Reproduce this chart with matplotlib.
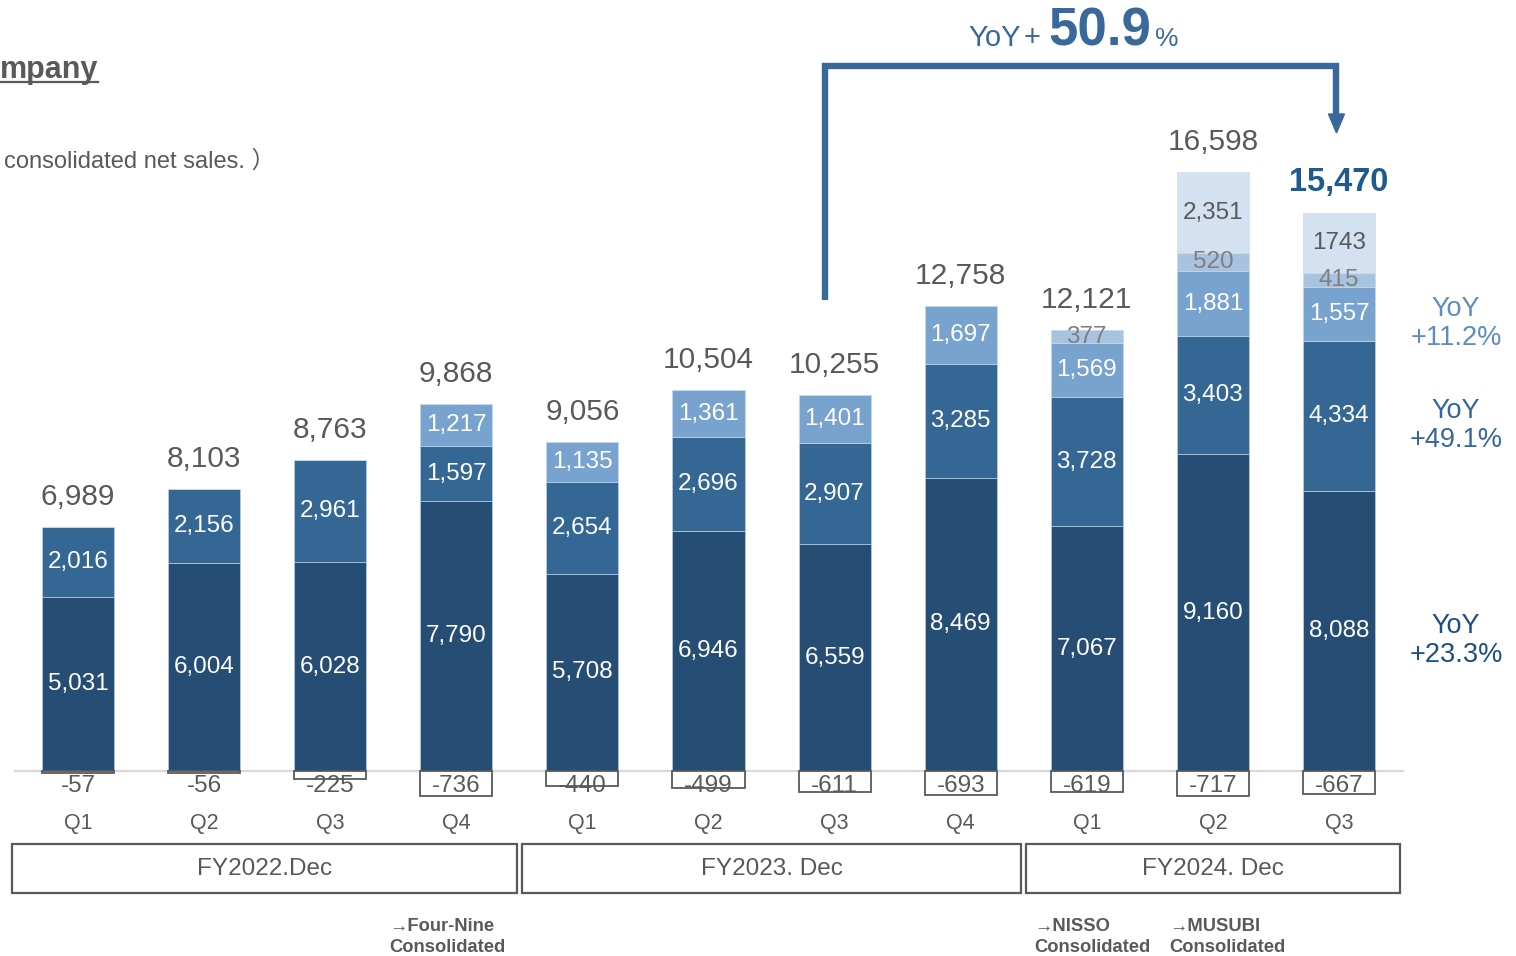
import matplotlib
matplotlib.use("Agg")
import matplotlib.pyplot as plt
from matplotlib.patches import Rectangle

plt.rcParams['font.family'] = ['Liberation Sans', 'Noto Sans CJK JP', 'DejaVu Sans']

# quarterly net sales (millions of yen) by segment
quarters = ["Q1", "Q2", "Q3", "Q4", "Q1", "Q2", "Q3", "Q4", "Q1", "Q2", "Q3"]
fiscal_years = ["FY2022.Dec", "FY2023. Dec", "FY2024. Dec"]
fy_sizes = [4, 4, 3]

seg1 = [5031, 6004, 6028, 7790, 5708, 6946, 6559, 8469, 7067, 9160, 8088]
seg2 = [2016, 2156, 2961, 1597, 2654, 2696, 2907, 3285, 3728, 3403, 4334]
seg3 = [0, 0, 0, 1217, 1135, 1361, 1401, 1697, 1569, 1881, 1557]
seg4 = [0, 0, 0, 0, 0, 0, 0, 0, 377, 520, 415]
seg5 = [0, 0, 0, 0, 0, 0, 0, 0, 0, 2351, 1743]
elim = [-57, -56, -225, -736, -440, -499, -611, -693, -619, -717, -667]
totals = [6989, 8103, 8763, 9868, 9056, 10504, 10255, 12758, 12121, 16598, 15470]
seg_labels = [None, None, None, None, None, None, None, None, None, "2,351", "1743"]

yoy_total = "50.9"
yoy_segments = ["+23.3%", "+49.1%", "+11.2%"]
note_texts = ["→Four-Nine\nConsolidated", "→NISSO\nConsolidated", "→MUSUBI\nConsolidated"]
note_left_px = [389, 1034, 1169]

seg_colors = ["#264E75", "#356795", "#78A3CF", "#A7C3E0", "#D3E1F0"]
seg_text = ["white", "white", "white", "#7F7F7F", "#595959"]
yoy_colors = ["#1C4F82", "#36679A", "#5D8DC0"]
gray = "#595959"
accent = "#39699B"

# layout: pixel -> data helpers (bar spacing 126.1 px, 0.0346 px per unit)
X0, DX, BASE, SCALE = 78, 126.1, 771, 0.0346
def X(px):
    return (px - X0) / DX
def Y(py):
    return (BASE - py) / SCALE

fig = plt.figure(figsize=(15.16, 9.56), dpi=100)
ax = fig.add_axes([0, 0, 1, 1])
ax.set_xlim(X(0), X(1516))
ax.set_ylim(Y(956), Y(0))
ax.axis("off")

n = len(quarters)
xs = list(range(n))
w = 0.571

# baseline
ax.plot([X(15), X(1403)], [0, 0], color="#D9D9D9", lw=1.6, zorder=1)

bottoms = [0] * n
for k, seg in enumerate([seg1, seg2, seg3, seg4, seg5]):
    ax.bar(xs, seg, w, bottom=bottoms, color=seg_colors[k],
           edgecolor="#C9D8E8", linewidth=0.4, zorder=2)
    for i in xs:
        if seg[i] <= 0:
            continue
        if k == 4:
            txt = seg_labels[i]
        else:
            txt = f"{seg[i]:,}"
        ax.text(i, bottoms[i] + seg[i] / 2, txt, ha="center", va="center",
                fontsize=17.5, color=seg_text[k], zorder=4)
    bottoms = [b + v for b, v in zip(bottoms, seg)]

# eliminations below the baseline
for i in xs:
    ax.add_patch(Rectangle((i - w / 2, elim[i]), w, -elim[i], facecolor="white",
                           edgecolor=gray, linewidth=1.3, zorder=2))
    ax.text(i, -420, str(elim[i]), ha="center", va="center", fontsize=17.5,
            color=gray, zorder=4)

# totals
for i in xs:
    last = i == n - 1
    ax.text(i, bottoms[i] + 30 / SCALE, f"{totals[i]:,}", ha="center", va="center",
            fontsize=23.5 if last else 21.5, fontweight="bold" if last else "normal",
            color="#1F5A8E" if last else gray, zorder=4)

# quarter and fiscal-year labels
for i in xs:
    ax.text(i, Y(823), quarters[i], ha="center", va="center", fontsize=15.5, color=gray)

start = 0
for fy, size in zip(fiscal_years, fy_sizes):
    end = start + size - 1
    left = start - 0.48 - (0.04 if start == 0 else 0)
    right = end + 0.48
    ax.add_patch(Rectangle((left, Y(893)), right - left, Y(844) - Y(893),
                           facecolor="none", edgecolor=gray, linewidth=1.6))
    ax.text((left + right) / 2, Y(869), fy, ha="center", va="center",
            fontsize=17.5, color=gray)
    start += size

for txt, px in zip(note_texts, note_left_px):
    ax.text(X(px), Y(937), txt, ha="left", va="center", multialignment="left",
            fontsize=13.2, fontweight="bold", color=gray, linespacing=1.25)

# segment YoY notes next to the latest quarter
seg_centers = [seg1[-1] / 2, seg1[-1] + seg2[-1] / 2, seg1[-1] + seg2[-1] + seg3[-1] / 2]
for c, txt, col in zip(seg_centers, yoy_segments, yoy_colors):
    ax.text(X(1456), c - 280, "YoY\n" + txt, ha="center", va="center",
            fontsize=19.5, color=col, linespacing=1.15)

# year-over-year bracket arrow from FY2023 Q3 to FY2024 Q3
xl, xr = 6 - 0.08, n - 1 - 0.02
ax.plot([xl, xl, xr, xr], [Y(300), Y(66), Y(66), Y(118)], color=accent, lw=4.6,
        solid_joinstyle="miter", solid_capstyle="butt", zorder=3)
ax.fill([xr - 8 / DX, xr + 8 / DX, xr], [Y(114), Y(114), Y(133)], color=accent, zorder=3)

ax.text(X(968), Y(46), "YoY", ha="left", va="baseline", fontsize=21, color=accent)
ax.text(X(1024), Y(46), "+", ha="left", va="baseline", fontsize=21, color=accent)
ax.text(X(1048), Y(46), yoy_total, ha="left", va="baseline", fontsize=38,
        fontweight="bold", color=accent)
ax.text(X(1155), Y(46), "%", ha="left", va="baseline", fontsize=19, color=accent)

# page heading fragments
ax.text(X(0), Y(78), "mpany", ha="left", va="baseline", fontsize=22,
        fontweight="bold", color=gray)
ax.plot([X(0), X(98)], [Y(82), Y(82)], color=gray, lw=1.6)
ax.text(X(4), Y(162), "consolidated net sales. ）", ha="left", va="center",
        fontsize=17, color=gray)

fig.savefig("out.png", dpi=100)
